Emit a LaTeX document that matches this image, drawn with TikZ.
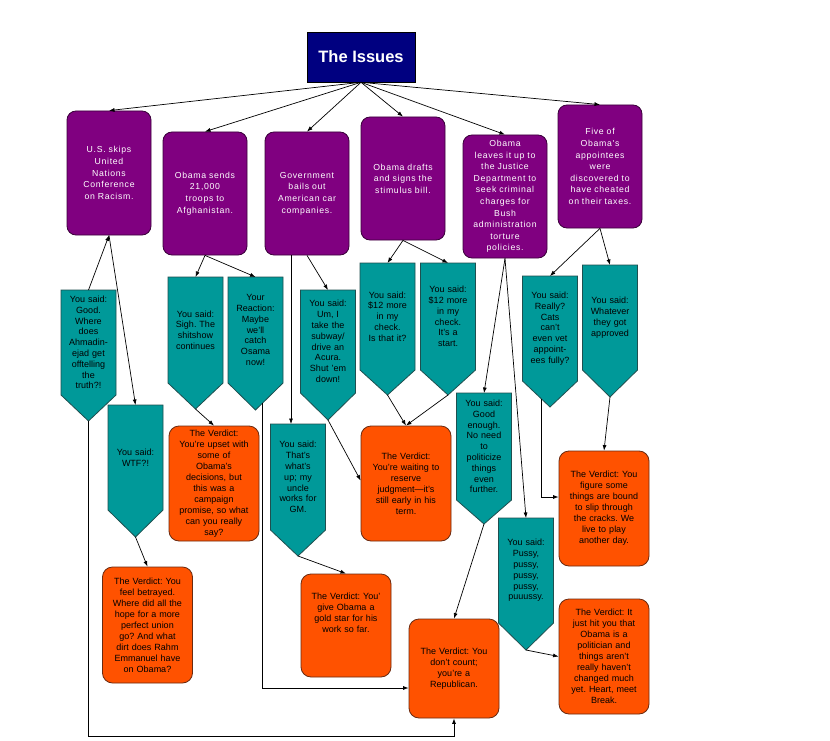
\documentclass[tikz,border=0pt]{standalone}
\usepackage{fontspec}
\setmainfont{Liberation Sans}
\newfontfamily\pfont[LetterSpace=8]{Liberation Sans}
\usetikzlibrary{calc,backgrounds,arrows.meta}
\frenchspacing
\definecolor{titleC}{HTML}{000080}
\definecolor{purpleC}{HTML}{800080}
\definecolor{purpleD}{HTML}{3A003A}
\definecolor{tealC}{HTML}{009999}
\definecolor{tealD}{HTML}{1F4F4F}
\definecolor{orangeC}{HTML}{FF5200}
\definecolor{orangeD}{HTML}{6A2A10}
\tikzset{
  titlebox/.style={rectangle, fill=titleC, draw=black, line width=0.6, text=white,
    font=\fontsize{16.5}{19}\selectfont\bfseries, minimum width=108, minimum height=50},
  issue/.style={rectangle, rounded corners=9, fill=purpleC, draw=purpleD, line width=0.8,
    text=white, align=center, text width=80, inner sep=2,
    font=\pfont\fontsize{8.7}{11.6}\selectfont\frenchspacing, minimum width=84},
  said/.style={rectangle, draw=none, align=center, text width=52, inner sep=1.5, outer sep=0,
    font=\fontsize{9}{10.8}\selectfont\frenchspacing, minimum width=55},
  saidshape/.style={fill=tealC, draw=tealD, line width=0.8, line join=miter},
  verdict/.style={rectangle, rounded corners=10, fill=orangeC, draw=orangeD, line width=0.8,
    align=center, text width=86, inner sep=2, font=\fontsize{9}{11}\selectfont\frenchspacing,
    minimum width=90},
  verdicttext/.style={align=center, text width=86, inner sep=0, font=\fontsize{9}{11}\selectfont\frenchspacing},
  arr/.style={draw=black, line width=0.7, -{Latex[length=5.5,width=4]}}
}
\newcommand\tealbox[6]{%
  \node[said, minimum height=#4] (#1) at (#2,#3) {#6};
  \coordinate (#1tip) at ($(#1.south)+(0,#5)$);
  \begin{pgfonlayer}{background}
    \draw[saidshape] (#1.north west) -- (#1.north east) -- (#1.south east) -- (#1tip) -- (#1.south west) -- cycle;
  \end{pgfonlayer}}
\begin{document}
\begin{tikzpicture}[x=1pt,y=-1pt]
\begin{pgfonlayer}{background}
  \fill[white] (0,0) rectangle (830,741);
\end{pgfonlayer}
\useasboundingbox (0,0) rectangle (830,741);

% title
\node[titlebox] (title) at (361,57) {The Issues};

% issues
\node[issue, minimum height=124] (p1) at (109,173) {U.S. skips\\United\\Nations\\Conference\\on Racism.};
\node[issue, minimum height=123] (p2) at (205,193.5) {Obama sends\\21,000\\troops to\\Afghanistan.};
\node[issue, minimum height=123] (p3) at (307,193.5) {Government\\bails out\\American car\\companies.};
\node[issue, minimum height=123] (p4) at (403,178.5) {Obama drafts\\and signs the\\stimulus bill.};
\node[issue, minimum height=123] (p5) at (505,196.5) {Obama\\leaves it up to\\the Justice\\Department to\\seek criminal\\charges for\\Bush\\administration\\torture\\policies.};
\node[issue, minimum height=123] (p6) at (600,166.5) {Five of\\Obama's\\appointees\\were\\discovered to\\have cheated\\on their taxes.};

% reactions
\tealbox{t1}{88.5}{342.5}{105}{26}{You said:\\Good.\\Where\\does\\Ahmadin-\\ejad get\\offtelling\\the\\truth?!}
\tealbox{t2}{135.5}{457.5}{105}{27}{You said:\\WTF?!}
\tealbox{t3}{195.5}{330}{106}{26}{You said:\\Sigh. The\\shitshow\\continues}
\tealbox{t4}{255.5}{330}{106}{27}{Your\\Reaction:\\Maybe\\we'll\\catch\\Osama\\now!}
\tealbox{t5}{328}{341.5}{103}{27}{You said:\\Um, I\\take the\\subway/\\drive an\\Acura.\\Shut 'em\\down!}
\tealbox{t6}{298}{477}{106}{26}{You said:\\That's\\what's\\up; my\\uncle\\works for\\GM.}
\tealbox{t7}{387.5}{316.5}{107}{25}{You said:\\\$12 more\\in my\\check.\\Is that it?}
\tealbox{t8}{448}{316.5}{107}{25}{You said:\\\$12 more\\in my\\check.\\It's a\\start.}
\tealbox{t9}{484}{446.5}{107}{24}{You said:\\Good\\enough.\\No need\\to\\politicize\\things\\even\\further.}
\tealbox{t10}{550}{328.5}{105}{26}{You said:\\Really?\\Cats\\can't\\even vet\\appoint-\\ees fully?}
\tealbox{t11}{610}{317.5}{105}{27}{You said:\\Whatever\\they got\\approved}
\tealbox{t12}{526}{570.5}{105}{27}{You said:\\Pussy,\\pussy,\\pussy,\\pussy,\\puuussy.}

% verdicts
\node[verdict, minimum height=115] (o1) at (214,483.5) {The Verdict:\\You're upset with\\some of\\Obama's\\decisions, but\\this was a\\campaign\\promise, so what\\can you really\\say?};
\node[verdict, minimum height=116] (o2) at (147.5,625) {The Verdict: You\\feel betrayed.\\Where did all the\\hope for a more\\perfect union\\go? And what\\dirt does Rahm\\Emmanuel have\\on Obama?};
\node[verdict, minimum height=115] (o3) at (406,483.5) {The Verdict:\\You're waiting to\\reserve\\judgment—it's\\still early in his\\term.};
\node[verdict, minimum height=103] (o4) at (346,625.5) {};
\node[verdicttext] (o4t) at ($(o4.center)+(0,-13)$) {The Verdict: You'\\give Obama a\\gold star for his\\work so far.};
\node[verdict, minimum height=115] (o5) at (604,508.5) {The Verdict: You\\figure some\\things are bound\\to slip through\\the cracks. We\\live to play\\another day.};
\node[verdict, minimum height=99] (o6) at (454,668.5) {The Verdict: You\\don't count;\\you're a\\Republican.};
\node[verdict, minimum height=115] (o7) at (604,656.5) {The Verdict: It\\just hit you that\\Obama is a\\politician and\\things aren't\\really haven't\\changed much\\yet. Heart, meet\\Break.};

% connectors from title
\foreach \p in {p1,p2,p3,p4,p5,p6}
  \draw[arr] (title.south) -- (\p.north);

% issue 1
\draw[arr] (t1.north) -- (p1.south);
\draw[arr] (p1.south) -- (t2.north);
\coordinate (bottomline) at (0,736);
\draw[arr] (t1tip) -- (t1tip |- bottomline) -| (o6.south);
\draw[arr] (t2tip) -- (o2.north);

% issue 2
\draw[arr] (p2.south) -- (t3.north);
\draw[arr] (p2.south) -- (t4.north);
\draw[arr] (t3tip) -- (o1.north);
\coordinate (t4out) at (262,403);
\coordinate (t4turn) at (262,688);
\draw[arr] (t4out) -- (t4turn) -- (t4turn -| o6.west);

% issue 3
\coordinate (p3left) at ($(p3.south)+(-16,0)$);
\draw[arr] (p3left) -- (p3left |- t6.north);
\draw[arr] (p3.south) -- (t5.north);
\draw[arr] (t5tip) -- ($(o3.west)+(0,-3)$);
\draw[arr] (t6tip) -- (o4.north);

% issue 4
\draw[arr] (p4.south) -- (t7.north);
\draw[arr] (p4.south) -- (t8.north);
\draw[arr] (t7tip) -- (o3.north);
\draw[arr] (t8tip) -- (o3.north);

% issue 5
\draw[arr] (p5.south) -- (t9.north);
\draw[arr] (p5.south) -- (t12.north);
\draw[arr] (t9tip) -- (o6.north);
\draw[arr] (t12tip) -- (o7.west);

% issue 6
\draw[arr] (p6.south) -- (t10.north);
\draw[arr] (p6.south) -- (t11.north);
\coordinate (t10out) at (541,399);
\coordinate (t10turn) at (541,497);
\draw[arr] (t10out) -- (t10turn) -- (t10turn -| o5.west);
\draw[arr] (t11tip) -- (o5.north);
\end{tikzpicture}
\end{document}
